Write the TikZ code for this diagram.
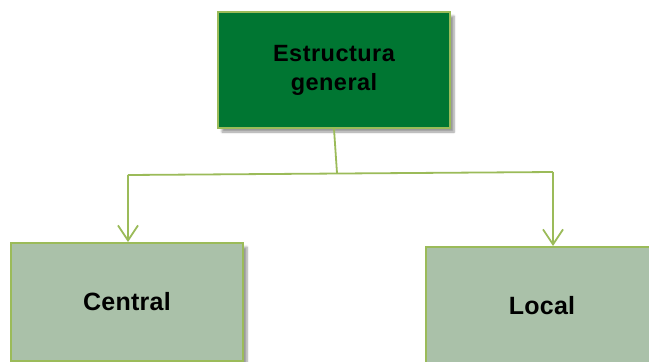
\documentclass[tikz,border=0pt]{standalone}
\usepackage{fontspec}
\setmainfont{Liberation Sans}
\usetikzlibrary{arrows.meta,shadows.blur}

\definecolor{darkgreen}{RGB}{0,118,50}
\definecolor{lightline}{RGB}{155,187,89}
\definecolor{palegreen}{RGB}{170,193,169}

\tikzset{
  topbox/.style={draw=lightline, line width=2pt, fill=darkgreen, minimum width=232pt,
    minimum height=116pt, align=center, inner sep=0pt,
    font=\fontsize{23.5}{29}\selectfont\bfseries\addfontfeature{LetterSpace=2},
    blur shadow={shadow xshift=4pt, shadow yshift=-4pt, shadow blur steps=6}},
  subbox/.style={topbox, fill=palegreen, minimum height=118pt,
    font=\fontsize{25}{29}\selectfont\bfseries\addfontfeature{LetterSpace=1}},
  link/.style={draw=lightline, line width=1.8pt},
  arrowlink/.style={link, -{Straight Barb[length=15pt, width=20pt, line width=1.8pt]}}
}

\begin{document}
\begin{tikzpicture}[x=1pt, y=-1pt]
  \useasboundingbox (0,0) rectangle (649,362);

  \coordinate (bus-l) at (128, 175);
  \coordinate (bus-m) at (337, 173);
  \coordinate (bus-r) at (553, 172);

  \node[topbox] (general) at (334, 70) {Estructura\\general};
  \node[subbox] (central) at (127, 302) {Central};
  \node[subbox] (local)   at (542, 306) {Local};

  \draw[link] (general.south) -- (bus-m);
  \draw[link] (bus-l) -- (bus-r);

  \draw[arrowlink] (bus-l) -- (bus-l |- central.north);
  \draw[arrowlink] (bus-r) -- (bus-r |- local.north);
\end{tikzpicture}
\end{document}
